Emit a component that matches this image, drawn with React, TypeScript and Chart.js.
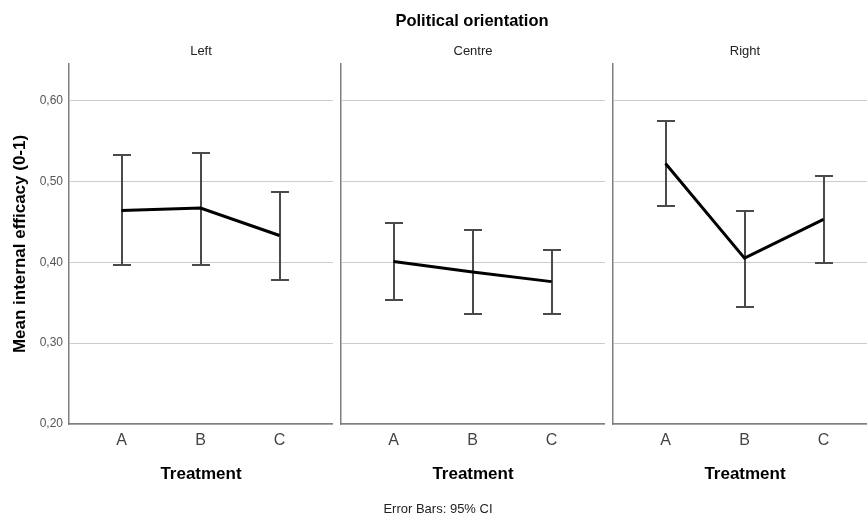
import React, { useEffect, useRef } from 'react';
import { Chart, registerables } from 'chart.js';

Chart.register(...registerables);

// ---- data ----
const categories = ['A', 'B', 'C'];
const panelNames = ['Left', 'Centre', 'Right'];

const leftMeans = [0.464, 0.467, 0.433];
const leftLower = [0.396, 0.397, 0.378];
const leftUpper = [0.532, 0.535, 0.487];

const centreMeans = [0.401, 0.388, 0.376];
const centreLower = [0.353, 0.336, 0.336];
const centreUpper = [0.448, 0.440, 0.415];

const rightMeans = [0.522, 0.405, 0.453];
const rightLower = [0.470, 0.345, 0.399];
const rightUpper = [0.574, 0.463, 0.507];

const yTicks = [0.2, 0.3, 0.4, 0.5, 0.6];
const yMin = 0.2;
const yMax = 0.645;
const xMin = -0.665;
const xMax = 2.677;

const FONT = "'Liberation Sans', Arial, Helvetica, sans-serif";

const errorBarPlugin = {
  id: 'errorBars',
  beforeDatasetsDraw(chart: any, _args: any, opts: any) {
    const { ctx } = chart;
    const x = chart.scales.x;
    const y = chart.scales.y;
    const lower: number[] = opts.lower || [];
    const upper: number[] = opts.upper || [];
    ctx.save();
    ctx.strokeStyle = '#4a4a4a';
    ctx.lineWidth = 2;
    lower.forEach((lo, i) => {
      const px = Math.round(x.getPixelForValue(i));
      const pl = Math.round(y.getPixelForValue(lo));
      const ph = Math.round(y.getPixelForValue(upper[i]));
      ctx.beginPath();
      ctx.moveTo(px, pl);
      ctx.lineTo(px, ph);
      ctx.moveTo(px - 9, pl);
      ctx.lineTo(px + 9, pl);
      ctx.moveTo(px - 9, ph);
      ctx.lineTo(px + 9, ph);
      ctx.stroke();
    });
    ctx.restore();
  },
};

type PanelProps = {
  title: string;
  means: number[];
  lower: number[];
  upper: number[];
  showY: boolean;
  left: number;
  width: number;
};

function Panel({ title, means, lower, upper, showY, left, width }: PanelProps) {
  const ref = useRef<HTMLCanvasElement>(null);
  useEffect(() => {
    if (!ref.current) return;
    const chart = new Chart(ref.current, {
      type: 'line',
      data: {
        datasets: [
          {
            data: means.map((m, i) => ({ x: i, y: m })),
            borderColor: '#000000',
            borderWidth: 3,
            pointRadius: 0,
            fill: false,
            tension: 0,
          },
        ],
      },
      options: {
        responsive: false,
        animation: false,
        devicePixelRatio: 1,
        layout: { padding: 0 },
        plugins: {
          legend: { display: false },
          tooltip: { enabled: false },
          title: {
            display: true,
            text: title,
            fullSize: false,
            color: '#222222',
            font: { family: FONT, size: 13, weight: 'normal' },
            padding: { top: 44, bottom: 4.4 },
          },
          errorBars: { lower, upper },
        } as any,
        scales: {
          x: {
            type: 'linear',
            min: xMin,
            max: xMax,
            afterBuildTicks: (s: any) => {
              s.ticks = categories.map((_, i) => ({ value: i }));
            },
            afterFit: (s: any) => {
              s.height = 90;
            },
            grid: { display: false, drawTicks: false },
            border: { display: true, color: '#7f7f7f', width: 1.5 },
            ticks: {
              padding: 7,
              color: '#444444',
              autoSkip: false,
              maxRotation: 0,
              font: { family: FONT, size: 16 },
              callback: (v: any) => categories[Number(v)] ?? '',
            },
            title: {
              display: true,
              text: 'Treatment',
              color: '#000000',
              font: { family: FONT, size: 17, weight: 'bold' },
              padding: { top: 0, bottom: 29.4 },
            },
          },
          y: {
            type: 'linear',
            min: yMin,
            max: yMax,
            afterBuildTicks: (s: any) => {
              s.ticks = yTicks.map((v) => ({ value: v }));
            },
            afterFit: (s: any) => {
              s.width = showY ? 69 : 8;
            },
            grid: { color: '#cccccc', lineWidth: 1, drawTicks: false },
            border: { display: true, color: '#7f7f7f', width: 1.5 },
            ticks: {
              display: showY,
              padding: 6,
              color: '#555555',
              font: { family: FONT, size: 12 },
              callback: (v: any) => Number(v).toFixed(2).replace('.', ','),
            },
            title: {
              display: showY,
              text: 'Mean internal efficacy (0-1)',
              color: '#000000',
              font: { family: FONT, size: 17, weight: 'bold' },
              padding: { top: 9.8, bottom: 0 },
            },
          },
        },
      } as any,
      plugins: [errorBarPlugin as any],
    });
    return () => chart.destroy();
  }, []);
  return (
    <canvas
      ref={ref}
      width={width}
      height={514}
      style={{ position: 'absolute', left, top: 0, width, height: 514, display: 'block' }}
    />
  );
}

export default function App() {
  const textStyle: React.CSSProperties = {
    position: 'absolute',
    transform: 'translate(-50%, -50%)',
    whiteSpace: 'nowrap',
    lineHeight: '1',
    fontFamily: FONT,
  };
  return (
    <div
      style={{
        position: 'absolute',
        left: 0,
        top: 0,
        width: 867,
        height: 514,
        overflow: 'hidden',
        background: '#ffffff',
      }}
    >
      <Panel title={panelNames[0]} means={leftMeans} lower={leftLower} upper={leftUpper} showY={true} left={0} width={333} />
      <Panel title={panelNames[1]} means={centreMeans} lower={centreLower} upper={centreUpper} showY={false} left={333} width={272} />
      <Panel title={panelNames[2]} means={rightMeans} lower={rightLower} upper={rightUpper} showY={false} left={605} width={272} />
      <div style={{ ...textStyle, left: 472, top: 19.5, fontSize: 16.5, fontWeight: 'bold', color: '#000' }}>
        Political orientation
      </div>
      <div style={{ ...textStyle, left: 438, top: 507.5, fontSize: 13, color: '#222' }}>
        Error Bars: 95% CI
      </div>
    </div>
  );
}
